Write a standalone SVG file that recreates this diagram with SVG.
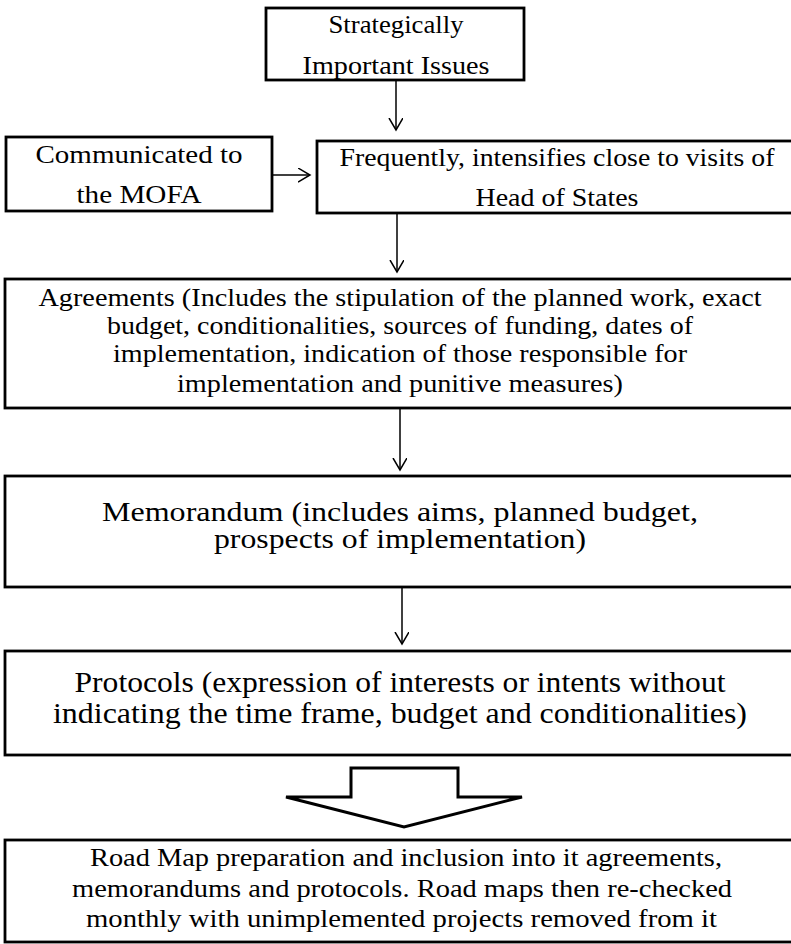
<svg xmlns="http://www.w3.org/2000/svg" width="791" height="944" viewBox="0 0 791 944">
<style>
.box{fill:#fff;stroke:#000;stroke-width:2.8}
.t{font-family:"Liberation Serif","Times New Roman",Times,serif;fill:#000;text-anchor:middle;font-size:26px}
.t2{font-size:29px}
.t3{font-size:27px}
.c{stroke:#000;stroke-width:1.5;fill:none}
.blk{fill:#fff;stroke:#000;stroke-width:3;stroke-linejoin:miter}
</style>
<defs>
<marker id="ah" markerUnits="userSpaceOnUse" markerWidth="16" markerHeight="16" refX="12" refY="7" orient="auto">
<path d="M0,0 L12,7 L0,14" fill="none" stroke="#000" stroke-width="1.5"/>
</marker>
</defs>
<rect width="791" height="944" fill="#fff"/>
<g id="n1">
<rect class="box" x="266" y="8" width="258" height="72"/>
<text class="t" x="396" y="33" textLength="135" lengthAdjust="spacingAndGlyphs">Strategically</text>
<text class="t" x="396" y="74" textLength="187" lengthAdjust="spacingAndGlyphs">Important Issues</text>
</g>
<g id="n2">
<rect class="box" x="6" y="137" width="266" height="74"/>
<text class="t" x="139" y="163" textLength="207" lengthAdjust="spacingAndGlyphs">Communicated to</text>
<text class="t" x="139" y="203" textLength="125" lengthAdjust="spacingAndGlyphs">the MOFA</text>
</g>
<g id="n3">
<rect class="box" x="317" y="141" width="480" height="72"/>
<text class="t" x="557" y="166" textLength="435" lengthAdjust="spacingAndGlyphs">Frequently, intensifies close to visits of</text>
<text class="t" x="557" y="206" textLength="163" lengthAdjust="spacingAndGlyphs">Head of States</text>
</g>
<g id="n4">
<rect class="box" x="5" y="279" width="790" height="129"/>
<text class="t" x="400" y="305.5" textLength="723" lengthAdjust="spacingAndGlyphs">Agreements (Includes the stipulation of the planned work, exact</text>
<text class="t" x="400" y="334" textLength="586" lengthAdjust="spacingAndGlyphs">budget, conditionalities, sources of funding, dates of</text>
<text class="t" x="400" y="362" textLength="574" lengthAdjust="spacingAndGlyphs">implementation, indication of those responsible for</text>
<text class="t" x="400" y="392" textLength="446" lengthAdjust="spacingAndGlyphs">implementation and punitive measures)</text>
</g>
<g id="n5">
<rect class="box" x="5" y="476" width="790" height="111"/>
<text class="t t3" x="400" y="521" textLength="596" lengthAdjust="spacingAndGlyphs">Memorandum (includes aims, planned budget,</text>
<text class="t t3" x="400" y="548" textLength="372" lengthAdjust="spacingAndGlyphs">prospects of implementation)</text>
</g>
<g id="n6">
<rect class="box" x="5" y="651" width="790" height="104"/>
<text class="t t2" x="400" y="692" textLength="651" lengthAdjust="spacingAndGlyphs">Protocols (expression of interests or intents without</text>
<text class="t t2" x="400" y="723" textLength="694" lengthAdjust="spacingAndGlyphs">indicating the time frame, budget and conditionalities)</text>
</g>
<g id="n7">
<rect class="box" x="5" y="840" width="790" height="102"/>
<text class="t" x="406" y="866" textLength="632" lengthAdjust="spacingAndGlyphs">Road Map preparation and inclusion into it agreements,</text>
<text class="t" x="402" y="897" textLength="660" lengthAdjust="spacingAndGlyphs">memorandums and protocols. Road maps then re-checked</text>
<text class="t" x="401.5" y="927" textLength="631" lengthAdjust="spacingAndGlyphs">monthly with unimplemented projects removed from it</text>
</g>
<g id="connectors">
<line class="c" x1="396" y1="81" x2="396" y2="130" marker-end="url(#ah)"/>
<line class="c" x1="273" y1="175" x2="310" y2="175" marker-end="url(#ah)"/>
<line class="c" x1="397" y1="214" x2="397" y2="272" marker-end="url(#ah)"/>
<line class="c" x1="400" y1="409" x2="400" y2="470" marker-end="url(#ah)"/>
<line class="c" x1="402" y1="588" x2="402" y2="644" marker-end="url(#ah)"/>
<polygon class="blk" points="351,768 458,768 458,797 522,797 404,827 286,797 351,797"/>
</g>
</svg>
